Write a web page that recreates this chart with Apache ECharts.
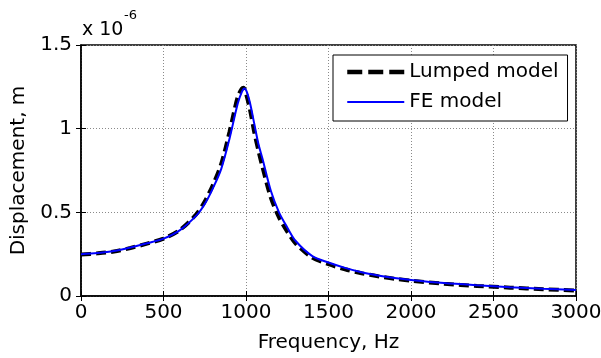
<!DOCTYPE html>
<html><head><meta charset="utf-8">
<script src="https://cdn.jsdelivr.net/npm/echarts@6/dist/echarts.min.js"></script>
<style>html,body{margin:0;padding:0;background:#fff}#c{width:601px;height:358px}</style>
</head><body><div id="c"></div>
<script>
var feFreq = [0,100,200,300,400,500,600,700,750,800,850,900,950,975,990,1005,1025,1050,1075,1100,1150,1200,1250,1300,1400,1500,1600,1700,1800,1900,2000,2200,2400,2600,2800,3000];
var feVals = [0.25,0.257,0.269,0.29,0.315,0.343,0.394,0.482,0.55,0.645,0.76,0.94,1.15,1.22,1.24,1.22,1.15,1.03,0.91,0.82,0.63,0.5,0.41,0.33,0.24,0.2,0.168,0.142,0.123,0.108,0.096,0.077,0.064,0.053,0.044,0.036];
var lumpFreq = [0,100,200,300,400,500,600,700,750,800,850,900,950,975,985,1000,1025,1050,1075,1100,1150,1200,1250,1300,1400,1500,1600,1700,1800,1900,2000,2200,2400,2600,2800,3000];
var lumpVals = [0.248,0.255,0.266,0.287,0.313,0.343,0.395,0.49,0.565,0.665,0.79,0.98,1.19,1.24,1.245,1.21,1.11,0.98,0.87,0.77,0.59,0.47,0.385,0.315,0.23,0.19,0.16,0.136,0.118,0.103,0.092,0.073,0.06,0.05,0.041,0.033];
var xTicks = [0,500,1000,1500,2000,2500,3000];
var yTicks = [0,0.5,1,1.5];

function pairs(xs, ys){ return xs.map(function(x,i){return [x, ys[i]];}); }
var FONT = 'DejaVu Sans, sans-serif';
var chart = echarts.init(document.getElementById('c'));
var gridLine = {show:true, lineStyle:{color:'#8a8a8a', type:[1,2], width:1}};
chart.setOption({
  animation:false,
  grid:{left:81, right:25, top:45, bottom:62, outerBoundsMode:'none', containLabel:false,
        show:true, borderColor:'#000', borderWidth:1.5, backgroundColor:'#fff'},
  xAxis:[{
    type:'value', min:xTicks[0], max:xTicks[xTicks.length-1], interval:500, position:'bottom',
    name:'Frequency, Hz', nameLocation:'middle', nameGap:37,
    nameTextStyle:{fontFamily:FONT, fontSize:20, color:'#000'},
    axisLine:{show:true, lineStyle:{color:'#000', width:1.5}},
    axisTick:{show:true, inside:true, length:5, lineStyle:{color:'#000'}},
    axisLabel:{fontFamily:FONT, fontSize:20, color:'#000', margin:7, formatter:function(v){return String(v);}},
    splitLine:gridLine
  },{
    type:'value', min:xTicks[0], max:xTicks[xTicks.length-1], interval:500, position:'top',
    axisLine:{show:false}, axisTick:{show:true, inside:true, length:5, lineStyle:{color:'#000'}},
    axisLabel:{show:false}, splitLine:{show:false}
  }],
  yAxis:[{
    type:'value', min:yTicks[0], max:yTicks[yTicks.length-1], interval:0.5, position:'left',
    name:'Displacement, m', nameLocation:'middle', nameGap:44,
    nameTextStyle:{fontFamily:FONT, fontSize:20, color:'#000'},
    axisLine:{show:true, lineStyle:{color:'#000', width:1.5}},
    axisTick:{show:true, inside:true, length:5, lineStyle:{color:'#000'}},
    axisLabel:{fontFamily:FONT, fontSize:20, color:'#000', margin:9, formatter:function(v){return String(v);}},
    splitLine:gridLine
  },{
    type:'value', min:yTicks[0], max:yTicks[yTicks.length-1], interval:0.5, position:'right',
    axisLine:{show:false}, axisTick:{show:true, inside:true, length:5, lineStyle:{color:'#000'}},
    axisLabel:{show:false}, splitLine:{show:false}
  }],
  legend:{
    orient:'vertical', left:333, top:55,
    backgroundColor:'#fff', borderColor:'#000', borderWidth:1,
    padding:[7,9,9,12], itemGap:10, itemWidth:57, itemHeight:14,
    itemStyle:{opacity:0},
    textStyle:{fontFamily:FONT, fontSize:20, color:'#000', lineHeight:20},
    data:[
      {name:'Lumped model', lineStyle:{width:4.5, type:[15,6], color:'#000'}},
      {name:'FE model', lineStyle:{width:2, color:'#0000ff'}}
    ]
  },
  graphic:[
    {type:'text', x:82, y:30, style:{text:'x 10', font:'19px '+FONT, fill:'#000', verticalAlign:'middle', align:'left'}},
    {type:'text', x:124, y:16, style:{text:'-6', font:'13px '+FONT, fill:'#000', verticalAlign:'middle', align:'left'}}
  ],
  series:[
    {name:'Lumped model', type:'line', data:pairs(lumpFreq, lumpVals), symbol:'none', smooth:0.3, z:2,
     lineStyle:{color:'#000', width:4, type:[10,5]}, itemStyle:{color:'#000'}},
    {name:'FE model', type:'line', data:pairs(feFreq, feVals), symbol:'none', smooth:0.3, z:3,
     lineStyle:{color:'#0000ff', width:2}, itemStyle:{color:'#0000ff'}}
  ]
});
</script></body></html>
